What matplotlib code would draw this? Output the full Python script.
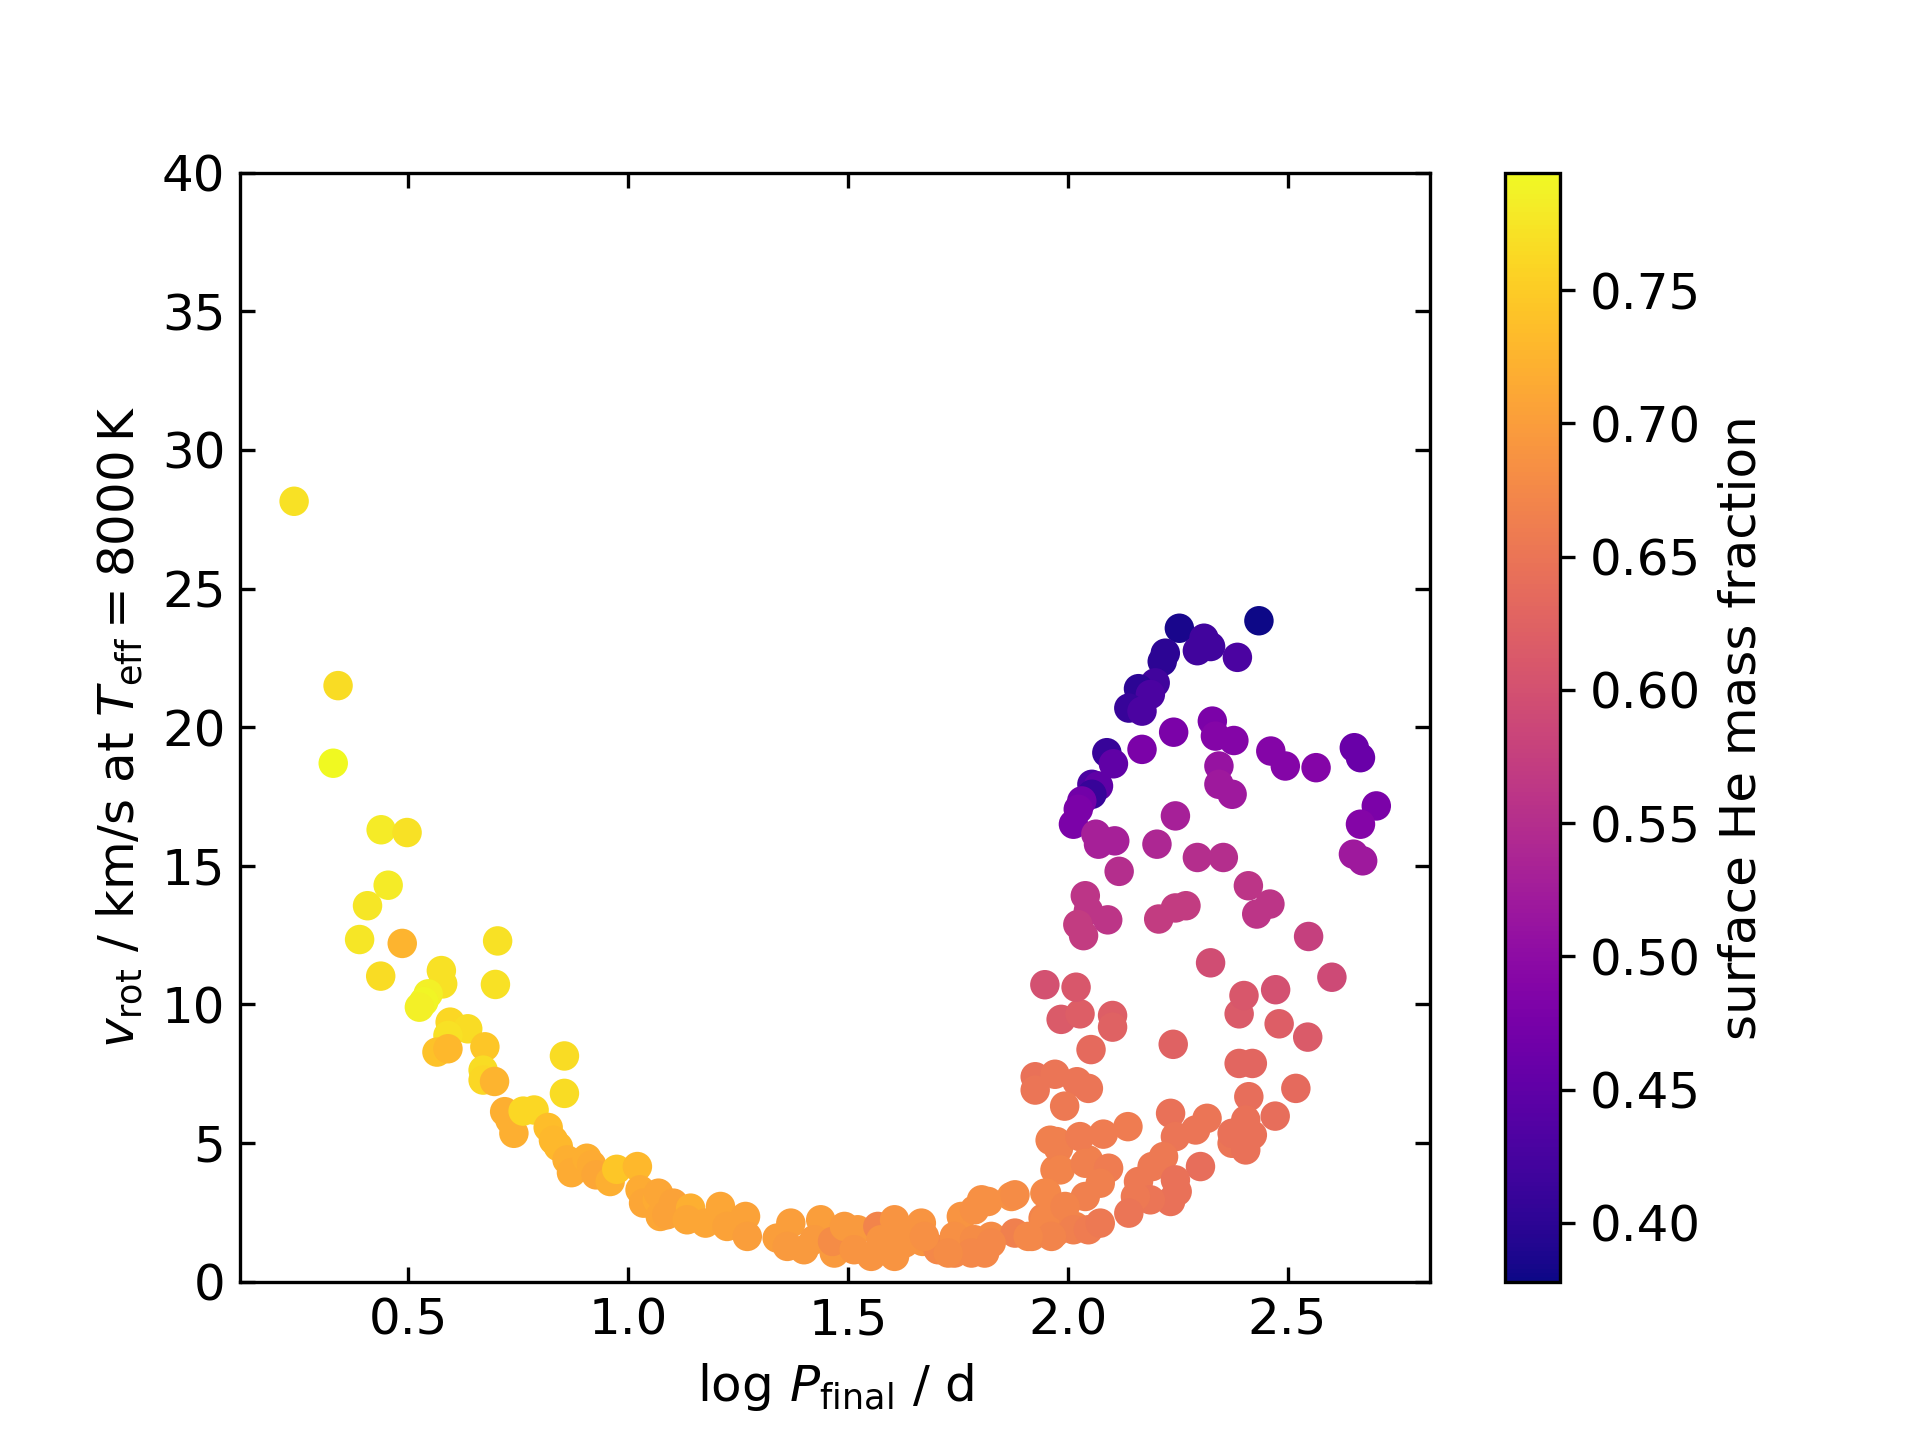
import numpy as np
import matplotlib
matplotlib.use("Agg")
import matplotlib.pyplot as plt

plt.rcParams["font.size"] = 12

# log P_final / d
logP = [0.240, 0.340, 0.329, 0.438, 0.497, 0.454, 0.407, 0.389, 0.486, 0.437,
        0.575, 0.578, 0.703, 0.698, 0.545, 0.535, 0.525, 0.595, 0.635, 0.590,
        0.565, 0.590, 0.674, 0.670, 0.670, 0.696, 0.855, 0.855, 0.719, 0.731,
        0.740, 0.761, 0.786, 0.818, 0.830, 0.841, 0.861, 0.871, 0.906, 0.917,
        0.927, 0.959, 0.974, 1.021, 1.027, 1.035, 1.066, 1.069, 1.073, 1.088,
        1.103, 1.142, 1.134, 1.176, 1.210, 1.225, 1.267, 1.271, 1.339, 1.370,
        1.362, 1.400, 1.438, 1.423, 1.469, 1.465, 1.492, 1.522, 1.514, 1.553,
        1.568, 1.606, 1.575, 1.613, 1.629, 1.667, 1.670, 1.705, 1.742, 1.758,
        1.742, 1.788, 1.788, 1.811, 1.819, 1.826, 1.872, 1.880, 1.918, 1.948,
        1.944, 1.960, 1.971, 1.971, 1.804, 1.880, 1.979, 2.047, 1.948, 1.826,
        1.781, 1.728, 1.674, 1.606, 2.017,
        1.985, 2.028, 2.102, 2.102, 2.053, 2.240, 2.390, 2.481, 2.546, 2.390,
        2.420, 2.412, 2.519, 2.472, 2.405, 2.420, 2.374, 2.405, 2.374, 2.317,
        2.291, 2.234, 2.245, 2.218, 2.192, 2.161, 2.302, 2.245, 2.249, 2.234,
        2.188, 2.154, 2.139, 1.926, 1.926, 1.971, 2.021, 2.047, 1.993, 1.975,
        2.028, 2.081, 2.137, 1.983, 2.040, 2.093, 2.074, 2.040, 1.952, 1.994,
        2.013, 2.047, 2.074, 1.963, 1.910,
        2.435, 2.254, 2.310, 2.295, 2.325, 2.386, 2.222, 2.215, 2.199, 2.161,
        2.188, 2.139, 2.169, 2.241, 2.169, 2.329, 2.336, 2.378, 2.462, 2.495,
        2.565, 2.652, 2.666, 2.702, 2.666, 2.650, 2.671, 2.344, 2.344, 2.374,
        2.089, 2.104, 2.055, 2.070, 2.055, 2.032, 2.024, 2.013, 2.064, 2.070,
        2.107, 2.245, 2.203, 2.117, 2.295, 2.354, 2.411, 2.460, 2.430, 2.040,
        2.047, 2.023, 2.036, 2.091, 2.207, 2.245, 2.269, 2.548, 2.325, 2.601,
        1.948, 2.019, 2.401, 2.473]

# v_rot / km/s at Teff = 8000 K
vrot = [28.15, 21.50, 18.70, 16.30, 16.20, 14.30, 13.56, 12.34, 12.20, 11.02,
        11.22, 10.74, 12.29, 10.72, 10.38, 10.10, 9.90, 9.36, 9.12, 8.88,
        8.28, 8.40, 8.47, 7.63, 7.27, 7.22, 8.14, 6.79, 6.13, 5.83,
        5.35, 6.15, 6.19, 5.56, 5.10, 4.87, 4.39, 3.93, 4.45, 4.21,
        3.85, 3.61, 4.05, 4.15, 3.31, 2.83, 2.95, 3.19, 2.35, 2.41,
        2.83, 2.65, 2.23, 2.11, 2.71, 1.99, 2.35, 1.63, 1.57, 2.11,
        1.27, 1.15, 2.23, 1.51, 1.03, 1.45, 1.99, 1.87, 1.15, 0.91,
        1.99, 0.91, 1.51, 1.99, 1.39, 2.11, 1.45, 1.15, 1.03, 2.35,
        1.63, 2.59, 1.51, 1.03, 2.89, 1.63, 3.07, 1.75, 1.63, 3.19,
        2.29, 5.10, 4.03, 1.76, 2.95, 3.13, 4.81, 4.39, 2.23, 1.39,
        1.03, 1.03, 1.63, 2.23, 1.99,
        9.46, 9.66, 9.60, 9.18, 8.37, 8.56, 9.66, 9.30, 8.82, 7.87,
        7.87, 6.67, 6.97, 5.97, 5.83, 5.29, 4.99, 4.75, 5.35, 5.89,
        5.47, 6.07, 5.23, 4.51, 4.15, 3.61, 4.15, 3.67, 3.25, 2.89,
        2.95, 3.07, 2.47, 7.39, 6.91, 7.48, 7.21, 6.97, 6.33, 5.05,
        5.23, 5.32, 5.59, 4.03, 4.27, 4.09, 3.55, 3.07, 3.19, 2.71,
        1.87, 1.87, 2.11, 1.63, 1.63,
        23.84, 23.57, 23.21, 22.76, 22.91, 22.52, 22.67, 22.37, 21.60, 21.39,
        21.18, 20.69, 20.58, 19.82, 19.20, 20.22, 19.68, 19.52, 19.14, 18.60,
        18.54, 19.26, 18.90, 17.16, 16.50, 15.42, 15.18, 18.60, 17.94, 17.58,
        19.08, 18.68, 17.94, 17.88, 17.58, 17.34, 17.04, 16.50, 16.14, 15.78,
        15.90, 16.80, 15.78, 14.80, 15.30, 15.30, 14.28, 13.62, 13.26, 13.92,
        13.38, 12.88, 12.48, 13.05, 13.08, 13.48, 13.56, 12.45, 11.50, 10.98,
        10.71, 10.62, 10.32, 10.53]

# surface He mass fraction
heX = [0.770, 0.765, 0.794, 0.780, 0.770, 0.780, 0.775, 0.775, 0.725, 0.765,
       0.770, 0.770, 0.770, 0.770, 0.785, 0.790, 0.785, 0.760, 0.765, 0.770,
       0.740, 0.730, 0.745, 0.765, 0.760, 0.725, 0.765, 0.765, 0.720, 0.720,
       0.720, 0.760, 0.760, 0.735, 0.730, 0.730, 0.720, 0.715, 0.720, 0.715,
       0.710, 0.720, 0.745, 0.730, 0.715, 0.710, 0.715, 0.710, 0.710, 0.705,
       0.705, 0.720, 0.710, 0.710, 0.710, 0.705, 0.705, 0.700, 0.700, 0.700,
       0.695, 0.695, 0.700, 0.695, 0.695, 0.680, 0.695, 0.695, 0.690, 0.690,
       0.670, 0.690, 0.690, 0.690, 0.690, 0.690, 0.690, 0.675, 0.675, 0.690,
       0.685, 0.685, 0.680, 0.675, 0.685, 0.680, 0.685, 0.665, 0.675, 0.680,
       0.670, 0.665, 0.670, 0.670, 0.685, 0.680, 0.665, 0.665, 0.675, 0.675,
       0.675, 0.680, 0.685, 0.690, 0.670,
       0.615, 0.620, 0.620, 0.625, 0.635, 0.625, 0.615, 0.620, 0.615, 0.630,
       0.630, 0.640, 0.635, 0.640, 0.645, 0.645, 0.650, 0.645, 0.645, 0.650,
       0.650, 0.645, 0.650, 0.655, 0.655, 0.655, 0.640, 0.645, 0.645, 0.645,
       0.650, 0.655, 0.650, 0.645, 0.650, 0.650, 0.650, 0.650, 0.655, 0.665,
       0.660, 0.660, 0.660, 0.670, 0.665, 0.660, 0.665, 0.665, 0.675, 0.670,
       0.665, 0.660, 0.655, 0.670, 0.675,
       0.378, 0.385, 0.420, 0.420, 0.420, 0.430, 0.400, 0.400, 0.420, 0.400,
       0.430, 0.410, 0.430, 0.480, 0.480, 0.480, 0.490, 0.490, 0.490, 0.490,
       0.490, 0.460, 0.460, 0.480, 0.490, 0.520, 0.520, 0.510, 0.520, 0.520,
       0.410, 0.450, 0.430, 0.450, 0.410, 0.470, 0.480, 0.480, 0.530, 0.530,
       0.530, 0.530, 0.540, 0.550, 0.550, 0.550, 0.560, 0.560, 0.560, 0.560,
       0.560, 0.570, 0.570, 0.560, 0.570, 0.570, 0.570, 0.575, 0.595, 0.590,
       0.600, 0.610, 0.610, 0.600]

logP = np.array(logP)
vrot = np.array(vrot)
heX = np.array(heX)

plt.figure(figsize=(6.4, 4.8))
sc = plt.scatter(logP, vrot, c=heX, cmap="plasma", s=50, edgecolors="none")
plt.ylim(0, 40)
plt.xlabel(r"$\log\,P_\mathrm{final}$ / d")
plt.ylabel(r"$v_\mathrm{rot}$ / km/s at $T_\mathrm{eff} = 8000\,\mathrm{K}$")
plt.tick_params(direction="in", top=True, right=True)

cb = plt.colorbar(sc)
cb.set_label("surface He mass fraction")

plt.savefig("out.png", dpi=300)
